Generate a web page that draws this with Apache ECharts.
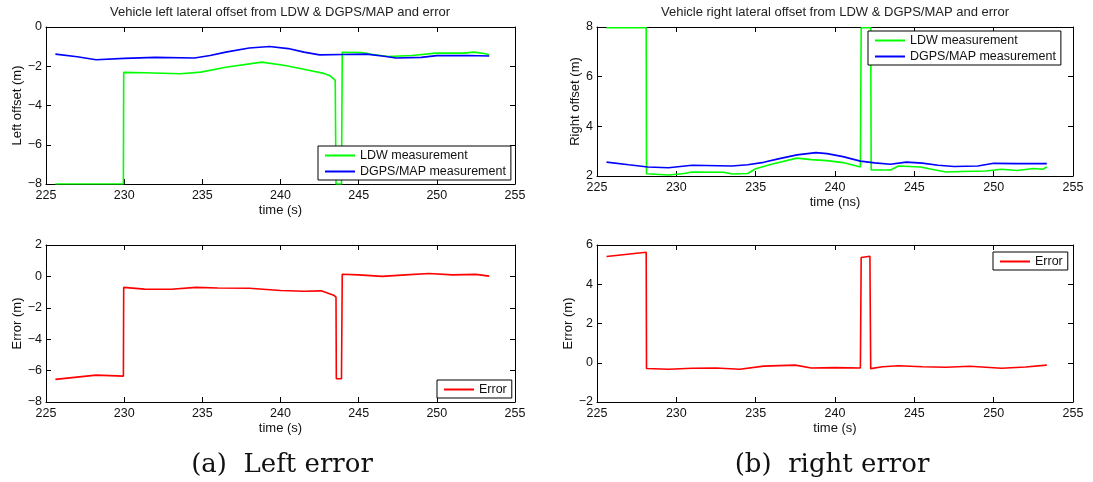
<!DOCTYPE html>
<html>
<head>
<meta charset="utf-8">
<script src="https://cdn.jsdelivr.net/npm/echarts@6/dist/echarts.min.js"></script>
<style>html,body{margin:0;padding:0;background:#fff;}#c{width:1093px;height:482px;}</style>
</head>
<body>
<div id="c"></div>
<script>
// ---- Data ----
const xTicks = [225, 230, 235, 240, 245, 250, 255];

// Left lateral offset: LDW measurement
const tLeftLdw = [225.6, 229.95, 229.97, 231.3, 233.6, 234.9, 236.5, 238.8, 240.3, 241.8, 242.7, 243.2, 243.5, 243.55, 243.9, 243.95, 245.2, 245.9, 246.9, 248.4, 249.95, 251.7, 252.4, 253.2, 253.35];
const vLeftLdw = [-8, -8, -2.31, -2.33, -2.38, -2.3, -2.05, -1.79, -1.96, -2.2, -2.35, -2.5, -2.72, -8, -8, -1.29, -1.3, -1.4, -1.5, -1.45, -1.33, -1.33, -1.28, -1.38, -1.42];
// Left lateral offset: DGPS/MAP measurement
const tLeftMap = [225.6, 227, 228.2, 230, 232, 234.5, 235.5, 236.5, 238, 239.3, 240.5, 241.5, 242.5, 244, 245.5, 246.5, 247.4, 249, 250, 252, 253.35];
const vLeftMap = [-1.38, -1.52, -1.67, -1.6, -1.55, -1.58, -1.45, -1.28, -1.07, -0.99, -1.1, -1.28, -1.42, -1.4, -1.38, -1.48, -1.58, -1.55, -1.46, -1.45, -1.48];
// Left error
const tLeftErr = [225.6, 228.2, 229.95, 229.97, 231.3, 233, 234.6, 236, 238, 240, 241.5, 242.6, 243.4, 243.55, 243.57, 243.9, 243.95, 245, 246.5, 248, 249.5, 251, 252.5, 253.35];
const vLeftErr = [-6.56, -6.29, -6.35, -0.70, -0.81, -0.82, -0.7, -0.74, -0.75, -0.9, -0.95, -0.92, -1.2, -1.32, -6.52, -6.52, 0.14, 0.1, 0.0, 0.1, 0.18, 0.1, 0.13, 0.02];

// Right lateral offset: LDW measurement
const tRightLdw = [225.6, 228.1, 228.12, 229.5, 230.5, 231, 233, 233.5, 234.5, 235, 236, 237.6, 238.5, 239.5, 240.5, 241.6, 241.65, 242.25, 242.28, 243.5, 244, 245.4, 246, 247, 248, 249.5, 250.5, 251.5, 252.5, 253.1, 253.35];
const vRightLdw = [7.97, 7.97, 2.09, 2.04, 2.1, 2.16, 2.15, 2.08, 2.1, 2.29, 2.47, 2.72, 2.66, 2.62, 2.54, 2.36, 7.97, 7.97, 2.24, 2.24, 2.4, 2.36, 2.28, 2.16, 2.18, 2.2, 2.27, 2.22, 2.3, 2.27, 2.36];
// Right lateral offset: DGPS/MAP measurement
const tRightMap = [225.6, 227, 228.2, 229.5, 231, 233.5, 234.5, 235.5, 236.5, 237.6, 238.8, 239.5, 240.5, 241.6, 242.5, 243.5, 244.5, 245.5, 246.5, 247.5, 249, 250, 251.5, 253.35];
const vRightMap = [2.56, 2.45, 2.36, 2.33, 2.43, 2.4, 2.45, 2.55, 2.7, 2.85, 2.94, 2.9, 2.78, 2.6, 2.53, 2.47, 2.56, 2.52, 2.43, 2.38, 2.4, 2.51, 2.5, 2.5];
// Right error
const tRightErr = [225.6, 228.1, 228.12, 229.5, 231, 232.5, 234, 235.5, 237.5, 238.5, 240, 241.6, 241.65, 242.2, 242.25, 243, 244, 245.5, 247, 248.5, 250.5, 252, 253.35];
const vRightErr = [5.41, 5.63, -0.29, -0.33, -0.28, -0.27, -0.33, -0.17, -0.12, -0.27, -0.25, -0.27, 5.36, 5.43, -0.3, -0.2, -0.15, -0.2, -0.23, -0.18, -0.28, -0.22, -0.12];

const titles = ['Vehicle left lateral offset from LDW & DGPS/MAP and error', 'Vehicle right lateral offset from LDW & DGPS/MAP and error'];
const captions = ['(a)  Left error', '(b)  right error'];
const xNames = ['time (s)', 'time (s)', 'time (ns)', 'time (s)'];
const yNames = ['Left offset (m)', 'Error (m)', 'Right offset (m)', 'Error (m)'];
const yRanges = [[-8, 0], [-8, 2], [2, 8], [-2, 6]];

// ---- Layout ----
const SANS = '"Liberation Sans", Arial, sans-serif';
const grids = [
  {left: 46, top: 27, width: 469, height: 157},
  {left: 46, top: 245, width: 469, height: 157},
  {left: 597, top: 27, width: 476, height: 149},
  {left: 597, top: 245, width: 476, height: 157}
];
const yNameGaps = [22, 22, 12, 12];
const minus = v => String(v).replace('-', '\u2212');
const axisLine = {show: true, onZero: false, lineStyle: {color: '#000', width: 1}};
const tick = {show: true, inside: true, length: 5, lineStyle: {color: '#000', width: 1}};

const xAxis = [], yAxis = [];
grids.forEach((g, i) => {
  xAxis.push({type: 'value', gridIndex: i, position: 'bottom', min: 225, max: 255, interval: 5,
    axisLine, axisTick: tick, splitLine: {show: false},
    axisLabel: {color: '#111', fontSize: 12.5, fontFamily: SANS, margin: 5, formatter: minus},
    name: xNames[i], nameLocation: 'middle', nameGap: 20,
    nameTextStyle: {color: '#111', fontSize: 13, fontFamily: SANS}});
  xAxis.push({type: 'value', gridIndex: i, position: 'top', min: 225, max: 255, interval: 5,
    axisLine, axisTick: tick, splitLine: {show: false}, axisLabel: {show: false}});
  yAxis.push({type: 'value', gridIndex: i, position: 'left', min: yRanges[i][0], max: yRanges[i][1], interval: 2,
    axisLine, axisTick: tick, splitLine: {show: false},
    axisLabel: {color: '#111', fontSize: 12.5, fontFamily: SANS, margin: 4, formatter: minus},
    name: yNames[i], nameLocation: 'middle', nameGap: yNameGaps[i], nameRotate: 90,
    nameTextStyle: {color: '#111', fontSize: 13, fontFamily: SANS}});
  yAxis.push({type: 'value', gridIndex: i, position: 'right', min: yRanges[i][0], max: yRanges[i][1], interval: 2,
    axisLine, axisTick: tick, splitLine: {show: false}, axisLabel: {show: false}});
});

const line = (name, t, v, color, gi) => ({
  type: 'line', name, xAxisIndex: gi * 2, yAxisIndex: gi * 2,
  data: t.map((x, k) => [x, v[k]]), showSymbol: false, symbol: 'none',
  lineStyle: {color, width: 1.6}, itemStyle: {color}, animation: false
});
const GREEN = '#00ff00', BLUE = '#0000ff', RED = '#ff0000';
const series = [
  line('LDW measurement', tLeftLdw, vLeftLdw, GREEN, 0),
  line('DGPS/MAP measurement', tLeftMap, vLeftMap, BLUE, 0),
  line('Error', tLeftErr, vLeftErr, RED, 1),
  line('LDW measurement', tRightLdw, vRightLdw, GREEN, 2),
  line('DGPS/MAP measurement', tRightMap, vRightMap, BLUE, 2),
  line('Error', tRightErr, vRightErr, RED, 3)
];

const legBase = {orient: 'vertical', icon: 'rect', itemWidth: 30, itemHeight: 2, itemGap: 3,
  backgroundColor: '#fff', borderColor: '#000', borderWidth: 1, borderRadius: 0,
  padding: [3, 5, 2, 7], selectedMode: false,
  textStyle: {color: '#111', fontSize: 12.5, fontFamily: SANS, padding: [0, 0, 0, 0]}};
const legend = [
  Object.assign({}, legBase, {left: 318, top: 146, data: ['LDW measurement', 'DGPS/MAP measurement']}),
  Object.assign({}, legBase, {left: 868, top: 31, data: ['LDW measurement', 'DGPS/MAP measurement']}),
  Object.assign({}, legBase, {left: 437, top: 380, data: ['Error']}),
  Object.assign({}, legBase, {left: 993, top: 252, data: ['Error']})
];

const CAPFONT = '26px "DejaVu Serif", serif';
const graphic = [
  {type: 'text', x: 280, y: 12, style: {text: titles[0], font: '13px ' + SANS, fill: '#222', align: 'center', verticalAlign: 'middle'}},
  {type: 'text', x: 835, y: 12, style: {text: titles[1], font: '13px ' + SANS, fill: '#222', align: 'center', verticalAlign: 'middle'}},
  {type: 'text', x: 282, y: 465, style: {text: captions[0], font: CAPFONT, fill: '#111', align: 'center', verticalAlign: 'middle'}},
  {type: 'text', x: 832, y: 465, style: {text: captions[1], font: CAPFONT, fill: '#111', align: 'center', verticalAlign: 'middle'}}
];

const chart = echarts.init(document.getElementById('c'), null, {renderer: 'canvas'});
chart.setOption({animation: false, backgroundColor: '#fff', grid: grids, xAxis, yAxis, series, legend, graphic});
</script>
</body>
</html>
